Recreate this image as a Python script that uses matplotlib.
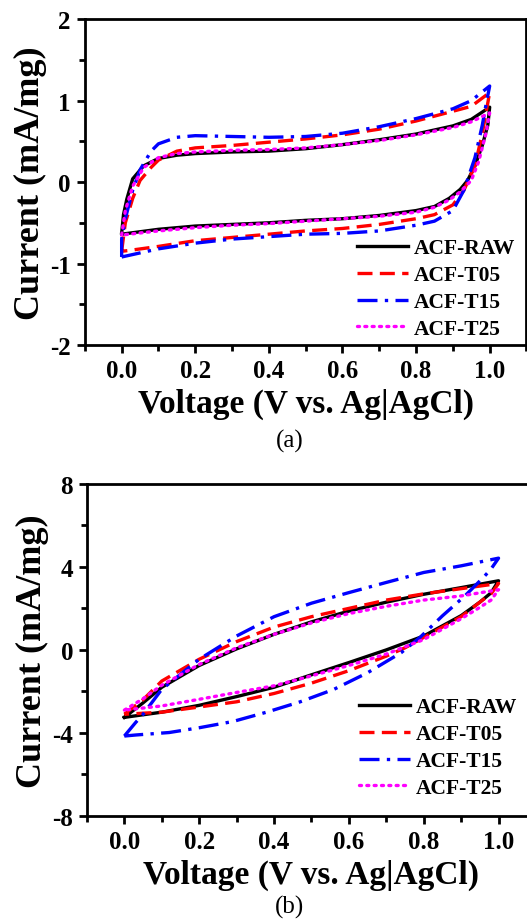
import numpy as np
import matplotlib.pyplot as plt
from matplotlib.ticker import MultipleLocator

plt.rcParams['font.family'] = ['Liberation Serif', 'DejaVu Serif']
plt.rcParams['font.weight'] = 'bold'
plt.rcParams['axes.unicode_minus'] = False

labels = ['ACF-RAW', 'ACF-T05', 'ACF-T15', 'ACF-T25']

# ---- panel (a): closed CV loops, forward sweep then reverse sweep ----
a_raw_v = [0.0, 0.005, 0.014, 0.03, 0.06, 0.1, 0.15, 0.2, 0.3, 0.4, 0.5, 0.6, 0.7, 0.8, 0.9, 0.95, 1.0,
           0.995, 0.98, 0.96, 0.94, 0.92, 0.89, 0.85, 0.8, 0.7, 0.6, 0.5, 0.4, 0.3, 0.2, 0.1, 0.0]
a_raw_i = [-0.63, -0.4, -0.21, 0.04, 0.2, 0.29, 0.33, 0.35, 0.37, 0.38, 0.41, 0.46, 0.52, 0.59, 0.69, 0.77, 0.92,
           0.7, 0.45, 0.2, 0.02, -0.09, -0.2, -0.3, -0.35, -0.41, -0.45, -0.47, -0.5, -0.52, -0.54, -0.58, -0.64]

a_t05_v = [0.0, 0.01, 0.03, 0.05, 0.08, 0.1, 0.15, 0.2, 0.3, 0.4, 0.5, 0.6, 0.7, 0.8, 0.9, 0.95, 1.0,
           0.99, 0.98, 0.96, 0.93, 0.9, 0.85, 0.8, 0.7, 0.6, 0.5, 0.4, 0.3, 0.2, 0.1, 0.02, 0.0]
a_t05_i = [-0.85, -0.5, -0.2, 0.02, 0.18, 0.27, 0.38, 0.42, 0.45, 0.49, 0.53, 0.58, 0.65, 0.75, 0.87, 0.93, 1.1,
           0.85, 0.6, 0.2, -0.1, -0.28, -0.4, -0.45, -0.52, -0.57, -0.6, -0.64, -0.68, -0.72, -0.79, -0.84, -0.85]

a_t15_v = [0.0, 0.0, 0.01, 0.03, 0.05, 0.08, 0.1, 0.15, 0.2, 0.3, 0.4, 0.5, 0.6, 0.7, 0.8, 0.9, 0.95, 1.0,
           0.99, 0.98, 0.96, 0.93, 0.9, 0.85, 0.8, 0.7, 0.6, 0.5, 0.4, 0.3, 0.2, 0.1, 0.02, 0.0]
a_t15_i = [-0.92, -0.7, -0.45, -0.1, 0.15, 0.38, 0.47, 0.55, 0.57, 0.56, 0.55, 0.56, 0.6, 0.68, 0.78, 0.9, 1.0, 1.18,
           0.95, 0.7, 0.3, -0.1, -0.35, -0.48, -0.53, -0.6, -0.63, -0.64, -0.67, -0.7, -0.75, -0.82, -0.9, -0.92]

a_t25_v = [0.0, 0.01, 0.03, 0.06, 0.1, 0.15, 0.2, 0.3, 0.4, 0.5, 0.6, 0.7, 0.8, 0.9, 0.95, 1.0,
           0.99, 0.97, 0.95, 0.92, 0.89, 0.85, 0.8, 0.7, 0.6, 0.5, 0.4, 0.3, 0.2, 0.1, 0.0]
a_t25_i = [-0.65, -0.35, -0.05, 0.18, 0.3, 0.35, 0.37, 0.39, 0.4, 0.42, 0.46, 0.51, 0.58, 0.67, 0.74, 0.85,
           0.6, 0.25, 0.02, -0.12, -0.22, -0.31, -0.37, -0.42, -0.45, -0.48, -0.51, -0.53, -0.56, -0.6, -0.65]

# ---- panel (b) ----
b_raw_v = [0.0, 0.05, 0.1, 0.2, 0.3, 0.4, 0.5, 0.6, 0.7, 0.8, 0.9, 1.0,
           0.98, 0.95, 0.9, 0.8, 0.7, 0.6, 0.5, 0.4, 0.3, 0.2, 0.1, 0.0]
b_raw_i = [-3.25, -2.55, -1.8, -0.75, 0.05, 0.75, 1.35, 1.87, 2.3, 2.68, 3.0, 3.33,
           2.75, 2.3, 1.65, 0.67, 0.0, -0.61, -1.2, -1.8, -2.25, -2.67, -3.0, -3.25]

b_t05_v = [0.0, 0.05, 0.1, 0.2, 0.3, 0.4, 0.5, 0.6, 0.7, 0.8, 0.9, 1.0,
           0.98, 0.95, 0.9, 0.8, 0.75, 0.7, 0.6, 0.5, 0.4, 0.3, 0.2, 0.1, 0.0]
b_t05_i = [-3.1, -2.4, -1.5, -0.45, 0.4, 1.1, 1.6, 2.0, 2.4, 2.7, 2.95, 3.2,
           2.7, 2.3, 1.6, 0.6, 0.1, -0.3, -1.0, -1.6, -2.1, -2.5, -2.75, -3.0, -3.1]

b_t15_v = [0.0, 0.03, 0.05, 0.1, 0.2, 0.3, 0.4, 0.5, 0.6, 0.7, 0.8, 0.9, 1.0,
           0.98, 0.96, 0.91, 0.85, 0.79, 0.74, 0.65, 0.56, 0.47, 0.38, 0.29, 0.2, 0.12, 0.03, 0.0]
b_t15_i = [-4.15, -3.5, -3.1, -1.9, -0.45, 0.67, 1.6, 2.25, 2.76, 3.25, 3.73, 4.05, 4.42,
           3.9, 3.5, 2.6, 1.64, 0.6, -0.13, -1.1, -1.9, -2.5, -3.0, -3.45, -3.75, -3.98, -4.1, -4.15]

b_t25_v = [0.0, 0.05, 0.1, 0.2, 0.3, 0.4, 0.5, 0.6, 0.7, 0.8, 0.9, 1.0,
           0.98, 0.95, 0.9, 0.8, 0.7, 0.6, 0.5, 0.4, 0.3, 0.2, 0.1, 0.0]
b_t25_i = [-2.9, -2.35, -1.7, -0.7, 0.1, 0.75, 1.3, 1.75, 2.1, 2.4, 2.6, 2.9,
           2.4, 2.05, 1.5, 0.5, -0.2, -0.75, -1.25, -1.73, -2.05, -2.38, -2.7, -2.9]

styles = [
    dict(color='black', linestyle='-'),
    dict(color='red', linestyle=(0, (4.5, 2.2))),
    dict(color='blue', linestyle=(0, (6, 2.2, 1, 2.2))),
    dict(color='magenta', linestyle=(0, (0.6, 1.6)), dash_capstyle='round'),
]


def style_axes(ax, ylim, ymajor, yminor):
    ax.set_xlim(-0.1, 1.1)
    ax.set_ylim(*ylim)
    ax.xaxis.set_minor_locator(MultipleLocator(0.1))
    ax.yaxis.set_major_locator(MultipleLocator(ymajor))
    ax.yaxis.set_minor_locator(MultipleLocator(yminor))
    ax.set_xticks([0.0, 0.2, 0.4, 0.6, 0.8, 1.0])
    ax.set_xticklabels(['0.0', '0.2', '0.4', '0.6', '0.8', '1.0'])
    ax.tick_params(which='both', direction='out', width=2, labelsize=18)
    ax.tick_params(which='major', length=6, pad=4)
    ax.tick_params(which='minor', length=4)
    for s in ax.spines.values():
        s.set_linewidth(2)
    ax.set_xlabel('Voltage (V vs. Ag|AgCl)', fontsize=24, fontweight='bold', labelpad=4)
    ax.set_ylabel('Current (mA/mg)', fontsize=26, fontweight='bold', labelpad=2)


fig = plt.figure(figsize=(5.27, 9.20), dpi=100)
ax1 = fig.add_axes([0.161, 0.624, 0.838, 0.354])
ax2 = fig.add_axes([0.165, 0.112, 0.852, 0.361])

a_data = [(a_raw_v, a_raw_i), (a_t05_v, a_t05_i), (a_t15_v, a_t15_i), (a_t25_v, a_t25_i)]
b_data = [(b_raw_v, b_raw_i), (b_t05_v, b_t05_i), (b_t15_v, b_t15_i), (b_t25_v, b_t25_i)]

for ax, data in [(ax1, a_data), (ax2, b_data)]:
    for (v, i), lab, st in zip(data, labels, styles):
        ax.plot(v, i, linewidth=2.4, label=lab, **st)

style_axes(ax1, (-2, 2), 1, 0.5)
style_axes(ax2, (-8, 8), 4, 2)

leg_font = {'family': 'Liberation Serif', 'weight': 'bold', 'size': 15.5}
ax1.legend(loc='lower left', bbox_to_anchor=(357 / 527, 1 - 340 / 920), bbox_transform=fig.transFigure,
           frameon=False, prop=leg_font, handlelength=2.35, handletextpad=0.3,
           labelspacing=0.32, borderaxespad=0, borderpad=0)
ax2.legend(loc='lower left', bbox_to_anchor=(359 / 527, 1 - 799 / 920), bbox_transform=fig.transFigure,
           frameon=False, prop=leg_font, handlelength=2.35, handletextpad=0.3,
           labelspacing=0.32, borderaxespad=0, borderpad=0)

fig.text(290 / 527, 1 - 441 / 920, '(a)', ha='center', va='center', fontsize=18, fontweight='normal')
fig.text(290 / 527, 1 - 907 / 920, '(b)', ha='center', va='center', fontsize=18, fontweight='normal')

fig.savefig('out.png', dpi=100)
